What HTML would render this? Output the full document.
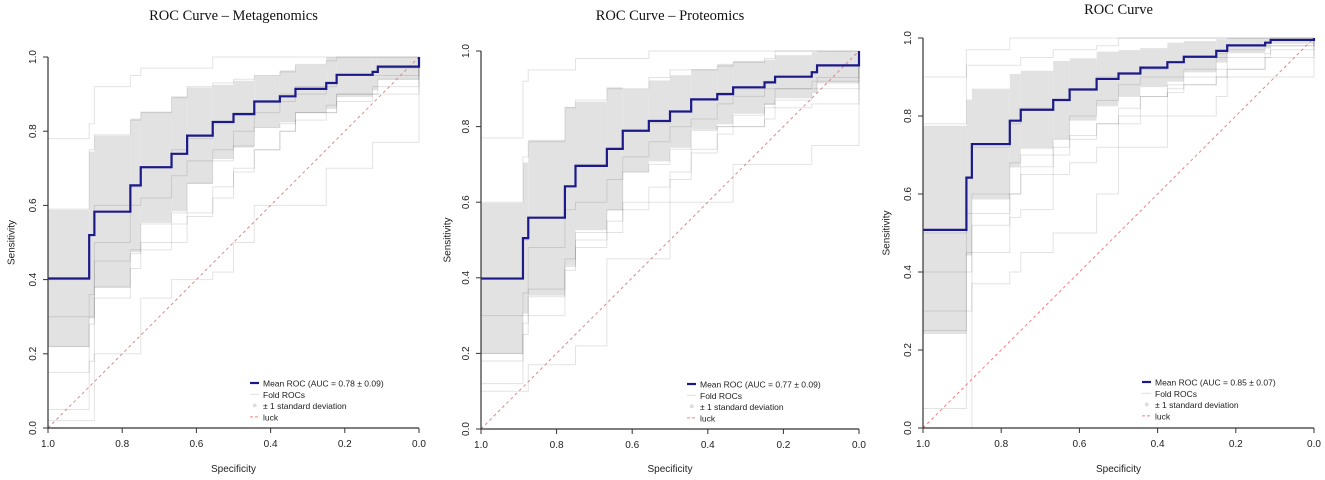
<!DOCTYPE html>
<html><head><meta charset="utf-8"><style>
html,body{margin:0;padding:0;background:#fff;}
svg{display:block;font-family:"Liberation Sans",Arial,sans-serif;}
</style></head><body>
<svg id="root" width="1325" height="480" viewBox="0 0 1325 480"></svg>
<script>
const specSteps = [1,0.889,0.875,0.778,0.75,0.667,0.625,0.556,0.5,0.444,0.375,0.333,0.25,0.222,0.125,0.111,0];
const titles = ["ROC Curve \u2013 Metagenomics","ROC Curve \u2013 Proteomics","ROC Curve"];
const legendLabels = ["Mean ROC (AUC = 0.78 \u00b1 0.09)","Mean ROC (AUC = 0.77 \u00b1 0.09)","Mean ROC (AUC = 0.85 \u00b1 0.07)"];
const tickLabels = ["0.0","0.2","0.4","0.6","0.8","1.0"];
const tickValues = [0,0.2,0.4,0.6,0.8,1.0];
const meanA = [0.403,0.52,0.583,0.654,0.703,0.739,0.788,0.825,0.846,0.88,0.894,0.914,0.93,0.952,0.96,0.974];
const sdA = [0.185,0.225,0.205,0.18,0.15,0.155,0.13,0.10,0.09,0.07,0.07,0.065,0.07,0.06,0.05,0.035];
const meanB = [0.398,0.505,0.559,0.642,0.696,0.741,0.789,0.815,0.84,0.872,0.886,0.904,0.917,0.932,0.944,0.962];
const sdB = [0.2,0.2,0.206,0.21,0.17,0.163,0.11,0.107,0.096,0.08,0.08,0.07,0.06,0.057,0.053,0.048];
const meanC = [0.508,0.642,0.728,0.788,0.816,0.841,0.868,0.895,0.909,0.924,0.938,0.952,0.967,0.981,0.988,0.995];
const sdC = [0.267,0.2,0.142,0.12,0.1,0.1,0.08,0.07,0.06,0.05,0.05,0.04,0.03,0.02,0.015,0.01];
const foldsA = [
 [0.22,0.3,0.38,0.47,0.55,0.58,0.66,0.72,0.76,0.81,0.82,0.85,0.85,0.9,0.92,0.94],
 [0.59,0.75,0.79,0.83,0.85,0.89,0.92,0.93,0.94,0.95,0.96,0.98,0.99,1,1,1],
 [0.02,0.02,0.2,0.2,0.35,0.4,0.4,0.42,0.5,0.6,0.6,0.6,0.7,0.7,0.77,0.77],
 [0.4,0.52,0.6,0.65,0.7,0.75,0.78,0.82,0.85,0.88,0.9,0.92,0.93,0.95,0.96,0.97],
 [0.78,0.82,0.92,0.95,0.97,0.97,0.97,1,1,1,1,1,1,1,1,1],
 [0.15,0.28,0.45,0.48,0.5,0.55,0.58,0.65,0.69,0.75,0.8,0.85,0.85,0.88,0.9,0.92],
 [0.3,0.36,0.5,0.6,0.62,0.68,0.72,0.75,0.8,0.85,0.88,0.9,0.92,0.95,0.95,0.95],
 [0.05,0.18,0.35,0.43,0.48,0.5,0.57,0.62,0.7,0.75,0.8,0.83,0.87,0.9,0.9,0.9]];
const foldsB = [
 [0.18,0.28,0.35,0.43,0.52,0.58,0.68,0.7,0.74,0.79,0.8,0.83,0.86,0.87,0.89,0.9],
 [0.6,0.72,0.76,0.85,0.87,0.9,0.9,0.93,0.95,0.95,0.96,0.97,0.98,1,1,1],
 [0.1,0.1,0.17,0.17,0.22,0.45,0.45,0.45,0.6,0.6,0.6,0.7,0.7,0.7,0.75,0.75],
 [0.4,0.5,0.56,0.64,0.7,0.74,0.79,0.81,0.84,0.87,0.89,0.9,0.92,0.93,0.94,0.96],
 [0.77,0.92,0.95,0.95,0.98,0.98,0.98,1,1,1,1,1,1,1,1,1],
 [0.12,0.3,0.37,0.45,0.5,0.52,0.6,0.64,0.66,0.74,0.78,0.8,0.82,0.85,0.86,0.86],
 [0.3,0.36,0.48,0.58,0.6,0.66,0.72,0.76,0.8,0.82,0.86,0.88,0.9,0.9,0.92,0.93],
 [0.2,0.25,0.3,0.42,0.48,0.55,0.58,0.6,0.68,0.73,0.8,0.8,0.85,0.9,0.9,0.92]];
const foldsC = [
 [0.25,0.4,0.55,0.6,0.67,0.72,0.75,0.78,0.8,0.85,0.87,0.88,0.9,0.92,0.95,0.95],
 [0.78,0.93,0.93,0.93,0.95,0.97,0.97,0.98,1,1,1,1,1,1,1,1],
 [0,0,0.37,0.4,0.45,0.5,0.5,0.6,0.72,0.72,0.8,0.8,0.85,0.9,0.9,0.9],
 [0.5,0.64,0.72,0.78,0.82,0.84,0.87,0.9,0.91,0.92,0.94,0.95,0.96,0.98,0.99,1],
 [0.9,0.97,0.97,1,1,1,1,1,1,1,1,1,1,1,1,1],
 [0.05,0.3,0.45,0.54,0.56,0.65,0.68,0.72,0.78,0.8,0.86,0.88,0.9,0.92,0.95,0.98],
 [0.4,0.55,0.6,0.68,0.7,0.74,0.8,0.84,0.88,0.9,0.9,0.92,0.95,0.97,0.98,0.98],
 [0.3,0.45,0.52,0.6,0.65,0.7,0.74,0.78,0.82,0.85,0.88,0.9,0.92,0.95,0.96,0.97]];

const panels = [
 {x0:48,x1:419,y0:428,y1:57,title:titles[0],ty:20,mean:meanA,sd:sdA,folds:foldsA,leg:legendLabels[0],lx:250,ly:383,sx:8,name:"metagenomics"},
 {x0:481,x1:859,y0:429,y1:51,title:titles[1],ty:20,mean:meanB,sd:sdB,folds:foldsB,leg:legendLabels[1],lx:687,ly:384,sx:444,name:"proteomics"},
 {x0:923,x1:1314,y0:428,y1:38,title:titles[2],ty:14,mean:meanC,sd:sdC,folds:foldsC,leg:legendLabels[2],lx:1142,ly:382,sx:883,name:"combined"}];

const NS="http://www.w3.org/2000/svg";
const root=document.getElementById('root');
function mk(tag,attrs,parent,txt){const e=document.createElementNS(NS,tag);for(const k in attrs)e.setAttribute(k,attrs[k]);if(txt!==undefined)e.textContent=txt;parent.appendChild(e);return e;}
function stepPath(vals,X,Y){let d="";for(let i=0;i<vals.length;i++){const xa=X(specSteps[i]),xb=X(specSteps[i+1]),y=Y(vals[i]);d+=(i===0?"M":"L")+xa+","+y+"L"+xb+","+y;}return d;}

panels.forEach((p)=>{
 const X=v=>p.x0+(1-v)*(p.x1-p.x0);
 const Y=v=>p.y0-v*(p.y0-p.y1);
 const g=mk('g',{},root);
 
 
 for(let i=0;i<p.mean.length;i++){
  const hi=Math.min(1,p.mean[i]+p.sd[i]),lo=Math.max(0,p.mean[i]-p.sd[i]);
  const r=mk('rect',{x:X(specSteps[i]),y:Y(hi),width:X(specSteps[i+1])-X(specSteps[i]),height:Y(lo)-Y(hi),fill:'#e2e2e2'},g);
  
  
 }
 p.folds.forEach(f=>{
  const d="M"+X(1)+","+Y(0)+"L"+X(1)+","+Y(f[0]).toString()+stepPath(f,X,Y).replace(/^M/,"L")+"L"+X(0)+","+Y(1);
  const l=mk('path',{d:d,fill:'none',stroke:'rgba(0,0,0,0.11)','stroke-width':1},g);
  
  
 });
 const lk=mk('line',{x1:X(1),y1:Y(0),x2:X(0),y2:Y(1),stroke:'#f08080','stroke-width':1,'stroke-dasharray':'3,3'},g);
 
 
 const md="M"+X(1)+","+Y(p.mean[0])+stepPath(p.mean,X,Y).replace(/^M[^L]*/,"")+"L"+X(0)+","+Y(1);
 const m=mk('path',{d:md,fill:'none',stroke:'#1c1a88','stroke-width':2.2},g);
 
 
 const ax=mk('path',{d:`M${p.x0},${p.y1}L${p.x0},${p.y0}L${p.x1},${p.y0}`,fill:'none',stroke:'#333','stroke-width':1.2},g);
 
 
 tickValues.forEach((v,i)=>{
  mk('line',{x1:p.x0-5,x2:p.x0,y1:Y(v),y2:Y(v),stroke:'#333'},g);
  const ty=mk('text',{x:p.x0-12,y:Y(v),'font-size':10,fill:'#222','text-anchor':'middle',transform:`rotate(-90 ${p.x0-12} ${Y(v)})`},g,tickLabels[i]);
  
  
  const xv=1-v;
  mk('line',{x1:X(xv),x2:X(xv),y1:p.y0,y2:p.y0+5,stroke:'#333'},g);
  const tx=mk('text',{x:X(xv),y:p.y0+19,'font-size':10,fill:'#222','text-anchor':'middle'},g,tickLabels[5-i]);
  
  
 });
 const xt=mk('text',{x:(p.x0+p.x1)/2,y:472,'font-size':10,fill:'#222','text-anchor':'middle'},g,'Specificity');
 
 
 const yc=(p.y0+p.y1)/2;
 const yt=mk('text',{x:p.sx,y:yc,'font-size':10,fill:'#222','text-anchor':'middle',transform:`rotate(-90 ${p.sx} ${yc})`,'dominant-baseline':'hanging'},g,'Sensitivity');
 
 
 const tt=mk('text',{x:(p.x0+p.x1)/2,y:p.ty,'font-size':14.5,fill:'#111','text-anchor':'middle','font-family':'"Liberation Serif",serif'},g,p.title);
 
 
 const lg=mk('g',{},g);
 
 
 const tx0=p.lx+13, dy=11.3;
 mk('line',{x1:p.lx,x2:p.lx+9,y1:p.ly,y2:p.ly,stroke:'#1c1a88','stroke-width':2.2},lg);
 mk('line',{x1:p.lx,x2:p.lx+9,y1:p.ly+dy,y2:p.ly+dy,stroke:'rgba(0,0,0,0.12)'},lg);
 mk('rect',{x:p.lx+3,y:p.ly+2*dy-2,width:3.5,height:3.5,fill:'#ddd'},lg);
 mk('line',{x1:p.lx,x2:p.lx+9,y1:p.ly+3*dy,y2:p.ly+3*dy,stroke:'#f08080','stroke-dasharray':'3,2'},lg);
 [p.leg,'Fold ROCs','\u00b1 1 standard deviation','luck'].forEach((s,i)=>{
  const e=mk('text',{x:tx0,y:p.ly+i*dy+3.5,'font-size':8.5,fill:'#222'},lg,s);
  
  
 });
});
</script>
</body></html>
